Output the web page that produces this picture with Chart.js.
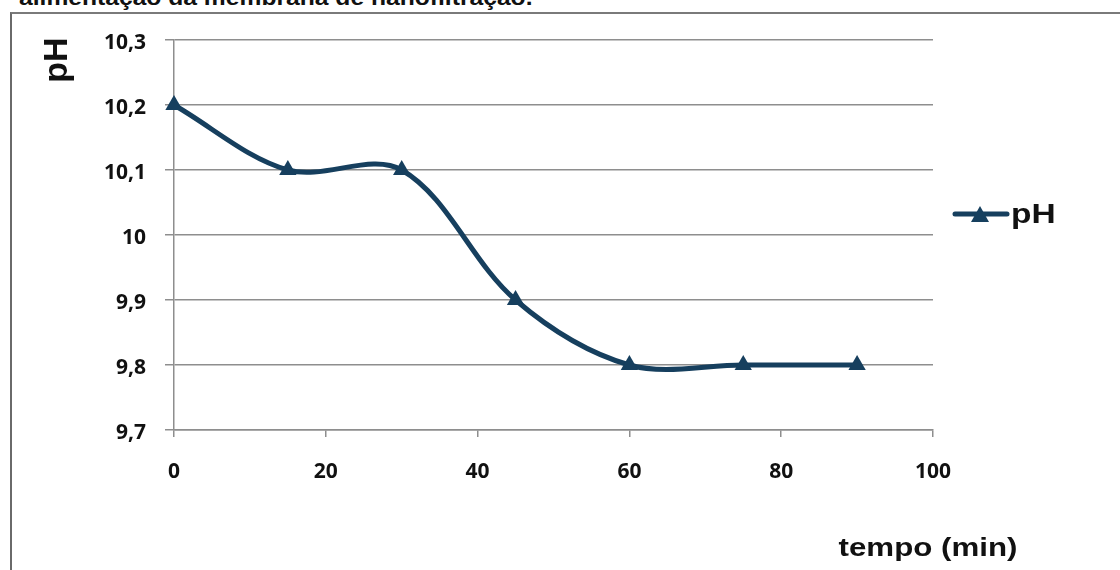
<!DOCTYPE html>
<html>
<head>
<meta charset="utf-8">
<script src="https://cdn.jsdelivr.net/npm/chart.js@4"></script>
<style>
  html, body { margin: 0; padding: 0; background: #fff; }
  #wrap { position: relative; width: 1120px; height: 570px; overflow: hidden; background: #fff; }
  #caption {
    position: absolute; left: 19px; top: -12.6px;
    font: bold 22px "Liberation Sans", Arial, sans-serif; color: #111;
    line-height: 22px; white-space: nowrap;
    transform: scaleX(1.12); transform-origin: 0 0;
  }
  #frame {
    position: absolute; left: 10px; top: 12px; width: 1200px; height: 700px;
    border-left: 2px solid #6a6a6a; border-top: 2px solid #7a7a7a;
  }
  canvas { position: absolute; left: 0; top: 0; }
</style>
</head>
<body>
<div id="wrap">
  <div id="caption">alimentação da membrana de nanofiltração.</div>
  <div id="frame"></div>
  <canvas id="c" width="1120" height="570"></canvas>
</div>
<script>
// Sampling times (min) and measured pH of the feed
const tempo = [0, 15, 30, 45, 60, 75, 90];
const pH = [10.2, 10.1, 10.1, 9.9, 9.8, 9.8, 9.8];

// Axis ranges / tick steps
const xTicks = [0, 20, 40, 60, 80, 100];
const yTicks = [9.7, 9.8, 9.9, 10.0, 10.1, 10.2, 10.3];

const seriesName = 'pH';
const xTitle = 'tempo (min)';
const yTitle = 'pH';

const navy = '#163f5e';
const gridGray = '#8e8e8e';
const tickFont = { family: '"Open Sans", Lato, sans-serif', size: 21, weight: 'bold' };
const titleFamily = '"Liberation Sans", Arial, sans-serif';

const fmt = v => (Math.round(v * 10) / 10).toString().replace('.', ',');

// Draws text with a horizontal stretch factor
function stretchedText(ctx, text, x, y, sx, align) {
  ctx.save();
  ctx.translate(x, y);
  ctx.scale(sx, 1);
  ctx.textAlign = align;
  ctx.fillText(text, 0, 0);
  ctx.restore();
}

// Axis titles and the legend, drawn on the canvas
const annotations = {
  id: 'annotations',
  afterDraw(chart) {
    const ctx = chart.ctx;
    ctx.save();
    ctx.fillStyle = '#111';
    ctx.textBaseline = 'alphabetic';

    // y axis title, rotated
    ctx.save();
    ctx.font = 'bold 34px ' + titleFamily;
    ctx.translate(67, 60);
    ctx.rotate(-Math.PI / 2);
    ctx.textAlign = 'center';
    ctx.fillText(yTitle, 0, 0);
    ctx.restore();

    // x axis title
    ctx.font = 'bold 26.5px ' + titleFamily;
    stretchedText(ctx, xTitle, 928, 556, 1.18, 'center');

    // legend entry: line with triangle marker, then the label
    const ly = 214;
    ctx.strokeStyle = navy;
    ctx.lineWidth = 5;
    ctx.lineCap = 'round';
    ctx.beginPath();
    ctx.moveTo(955, ly);
    ctx.lineTo(1007, ly);
    ctx.stroke();
    ctx.fillStyle = navy;
    ctx.beginPath();
    ctx.moveTo(980, ly - 8);
    ctx.lineTo(989, ly + 8);
    ctx.lineTo(971, ly + 8);
    ctx.closePath();
    ctx.fill();

    ctx.fillStyle = '#111';
    ctx.font = 'bold 27px ' + titleFamily;
    stretchedText(ctx, seriesName, 1011, 223, 1.24, 'left');
    ctx.restore();
  }
};

new Chart(document.getElementById('c'), {
  type: 'line',
  data: {
    datasets: [{
      label: seriesName,
      data: tempo.map((t, i) => ({ x: t, y: pH[i] })),
      borderColor: navy,
      backgroundColor: navy,
      borderWidth: 5,
      tension: 0.34,
      pointStyle: 'triangle',
      pointRadius: 10,
      pointHoverRadius: 10,
      pointBorderWidth: 0,
      clip: false
    }]
  },
  plugins: [annotations],
  options: {
    responsive: false,
    animation: false,
    events: [],
    layout: { padding: { left: 0, top: 40, right: 187, bottom: 0 } },
    plugins: { legend: { display: false }, tooltip: { enabled: false } },
    scales: {
      x: {
        type: 'linear',
        min: 0, max: 100,
        afterBuildTicks: axis => { axis.ticks = xTicks.map(v => ({ value: v })); },
        afterFit: axis => { axis.height = 140; },
        grid: { drawOnChartArea: false, drawTicks: true, tickLength: 7, color: gridGray, lineWidth: 1.5 },
        border: { display: true, color: gridGray, width: 1.5 },
        ticks: { color: '#111', font: tickFont, padding: 22, maxRotation: 0, callback: v => String(v) }
      },
      y: {
        type: 'linear',
        min: 9.7, max: 10.3,
        afterBuildTicks: axis => { axis.ticks = yTicks.map(v => ({ value: v })); },
        afterFit: axis => { axis.width = 174; },
        grid: { drawOnChartArea: true, drawTicks: true, tickLength: 9, color: gridGray, lineWidth: 1.5 },
        border: { display: true, color: gridGray, width: 1.5 },
        ticks: { color: '#111', font: tickFont, padding: 19, labelOffset: 3, callback: v => fmt(v) }
      }
    }
  }
});
</script>
</body>
</html>
